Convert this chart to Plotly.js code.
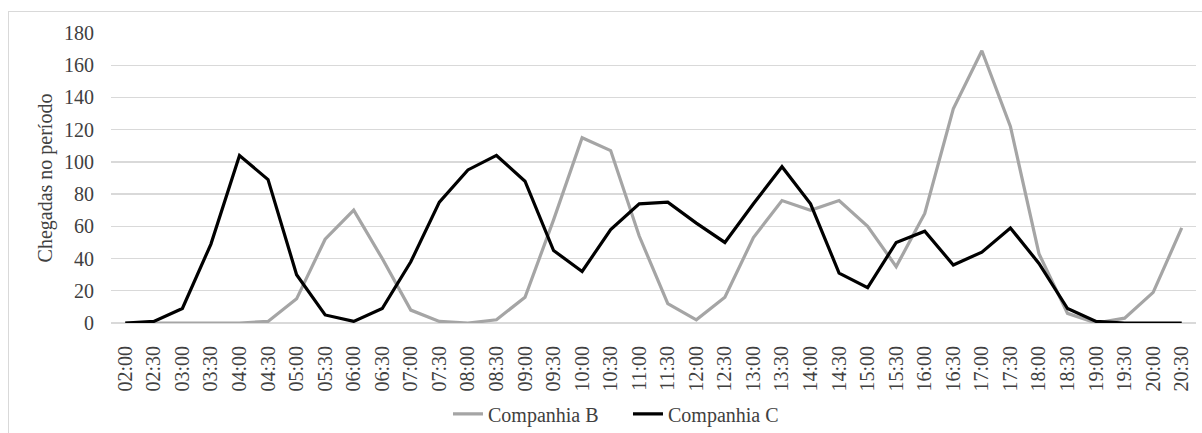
<!DOCTYPE html>
<html>
<head>
<meta charset="utf-8">
<script src="https://cdn.plot.ly/plotly-3.0.1.min.js"></script>
<style>
  html, body { margin: 0; padding: 0; background: #fff; overflow: hidden; }
  #wrap { position: relative; width: 1202px; height: 433px; }
  #frame { position: absolute; left: 8px; top: 11px; width: 1210px; height: 440px; border: 1px solid #D9D9D9; box-sizing: border-box; }
  #chart { position: absolute; left: 0; top: 0; width: 1202px; height: 433px; }
</style>
</head>
<body>
<div id="wrap">
  <div id="frame"></div>
  <div id="chart"></div>
</div>
<script>
const categories = ["02:00","02:30","03:00","03:30","04:00","04:30","05:00","05:30","06:00","06:30",
  "07:00","07:30","08:00","08:30","09:00","09:30","10:00","10:30","11:00","11:30",
  "12:00","12:30","13:00","13:30","14:00","14:30","15:00","15:30","16:00","16:30",
  "17:00","17:30","18:00","18:30","19:00","19:30","20:00","20:30"];
const companhiaB = [0,0,0,0,0,1,15,52,70,40,
  8,1,0,2,16,64,115,107,54,12,
  2,16,53,76,70,76,60,35,68,133,
  169,122,43,6,0,3,19,59];
const companhiaC = [0,1,9,49,104,89,30,5,1,9,
  38,75,95,104,88,45,32,58,74,75,
  62,50,74,97,74,31,22,50,57,36,
  44,59,37,9,1,0,0,0];
const yTicks = [0,20,40,60,80,100,120,140,160,180];

const FAMILY = 'Liberation Serif, Times New Roman, serif';
const TXT = '#404040';

const traces = [
  {x: categories, y: companhiaB, type: 'scatter', mode: 'lines', name: 'Companhia B',
   line: {color: '#A5A5A5', width: 3.2}},
  {x: categories, y: companhiaC, type: 'scatter', mode: 'lines', name: 'Companhia C',
   line: {color: '#000000', width: 3.2}}
];

const layout = {
  width: 1202, height: 433,
  margin: {l: 111, r: 6, t: 33, b: 110, pad: 0},
  paper_bgcolor: 'rgba(0,0,0,0)', plot_bgcolor: 'rgba(0,0,0,0)',
  font: {family: FAMILY, size: 20, color: TXT},
  showlegend: true,
  legend: {orientation: 'h', xref: 'container', yref: 'container',
           x: 0.3727, xanchor: 'left', y: 0.044, yanchor: 'middle',
           font: {family: FAMILY, size: 20, color: TXT}, bgcolor: 'rgba(0,0,0,0)',
           entrywidth: 135, tracegroupgap: 0},
  xaxis: {type: 'category', tickangle: -90, showgrid: false, zeroline: false,
          showline: false, ticks: 'outside', ticklen: 14, tickcolor: 'rgba(0,0,0,0)',
          automargin: false,
          tickfont: {family: FAMILY, size: 20, color: TXT},
          range: [-0.5, categories.length - 0.5], fixedrange: true},
  yaxis: {range: [0, 180], tickvals: yTicks, ticktext: yTicks.map(String),
          showgrid: true, gridcolor: '#D9D9D9', gridwidth: 1.3,
          zeroline: true, zerolinecolor: '#D9D9D9', zerolinewidth: 1.3,
          showline: false, ticks: '', ticklabelstandoff: 16, automargin: false,
          tickfont: {family: FAMILY, size: 20, color: TXT},
          title: {text: 'Chegadas no período', standoff: 6,
                  font: {family: FAMILY, size: 20, color: TXT}},
          fixedrange: true}
};

Plotly.newPlot('chart', traces, layout, {displayModeBar: false, staticPlot: true});
</script>
</body>
</html>
